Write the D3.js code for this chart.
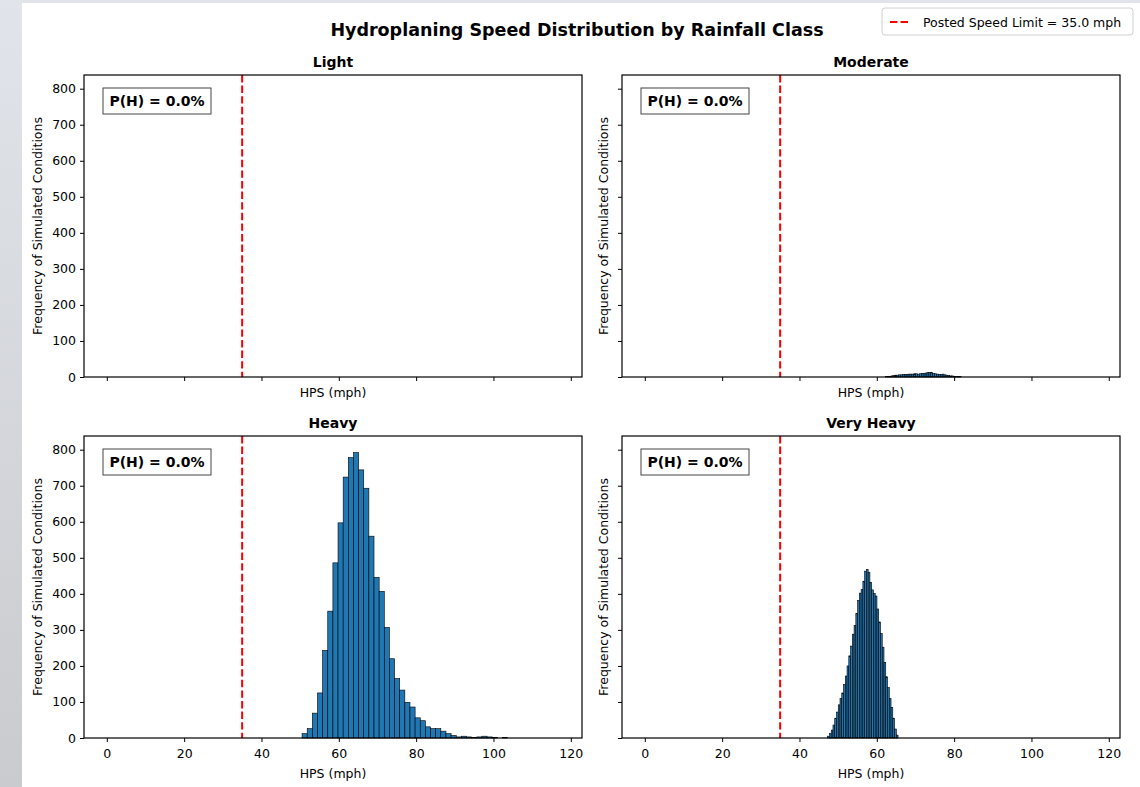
<!DOCTYPE html>
<html>
<head>
<meta charset="utf-8">
<script src="https://cdn.jsdelivr.net/npm/d3@7"></script>
<style>
  body { margin: 0; background: #ffffff; }
  svg { display: block; font-family: 'DejaVu Sans', sans-serif; }
  .tick text { font-size: 12.5px; fill: #000; }
</style>
</head>
<body>
<svg></svg>
<script>
let width = 1140;
let height = 787;

// rainfall classes, one panel each
let classes = ['Light', 'Moderate', 'Heavy', 'Very Heavy'];
let probH = ['0.0%', '0.0%', '0.0%', '0.0%'];
let speedLimit = 35.0;

// histogram bins: first edge (mph), bin width (mph), counts
let binStart = [0, 62.2, 50.5, 47.3];
let binWidth = [1, 0.49, 1.329, 0.455];
let lightCounts = [];
let moderateCounts = [1, 2, 2, 3, 4, 5, 5, 6, 6, 7, 7, 7, 8, 8, 8, 9, 9, 8, 9, 10,
    10, 11, 12, 13, 12, 10, 9, 8, 7, 7, 8, 6, 5, 4, 3, 3, 2, 1, 1, 1];
let heavyCounts = [12, 26, 69, 125, 243, 352, 486, 597, 724, 778, 792, 744, 693, 560, 446, 407, 307, 220, 165, 133,
    99, 86, 56, 48, 31, 26, 26, 19, 12, 7, 3, 5, 3, 1, 3, 5, 3, 2, 0, 1];
let veryHeavyCounts = [5, 12, 22, 36, 55, 72, 92, 110, 125, 148, 172, 200, 228, 255, 288, 312, 345, 382, 402, 412,
    435, 463, 468, 460, 432, 411, 401, 394, 358, 322, 290, 252, 210, 170, 140, 110, 85, 55, 25, 8];
let counts = [lightCounts, moderateCounts, heavyCounts, veryHeavyCounts];

let xTicks = [0, 20, 40, 60, 80, 100, 120];
let yTicks = [0, 100, 200, 300, 400, 500, 600, 700, 800];

let svg = d3.select('svg')
    .attr('width', width)
    .attr('height', height);

// screenshot backdrop
let defs = svg.append('defs');
let grad = defs.append('linearGradient')
    .attr('id', 'bg')
    .attr('x1', 0).attr('y1', 0).attr('x2', 0).attr('y2', 1);
grad.append('stop').attr('offset', '0%').attr('stop-color', '#e1e4ea');
grad.append('stop').attr('offset', '100%').attr('stop-color', '#c9cbce');

svg.append('rect')
    .attr('width', width).attr('height', height)
    .attr('fill', 'url(#bg)');
svg.append('rect')
    .attr('x', 22).attr('y', 3)
    .attr('width', width - 22).attr('height', height - 3)
    .attr('fill', '#ffffff');

svg.append('text')
    .attr('x', 577).attr('y', 36)
    .attr('text-anchor', 'middle')
    .attr('font-size', '17.5px')
    .attr('font-weight', 'bold')
    .text('Hydroplaning Speed Distribution by Rainfall Class');

let panelW = 498;
let panelH = 302;
let panelX = [84, 622, 84, 622];
let panelY = [75, 75, 436, 436];

classes.forEach(function (name, i) {
    let g = svg.append('g')
        .attr('transform', 'translate(' + panelX[i] + ',' + panelY[i] + ')');

    let x = d3.scaleLinear().domain([-5.9, 122.9]).range([0, panelW]);
    let y = d3.scaleLinear().domain([0, 838]).range([panelH, 0]);

    let bins = counts[i].map(function (c, j) {
        return { x0: binStart[i] + j * binWidth[i], x1: binStart[i] + (j + 1) * binWidth[i], n: c };
    });

    g.selectAll('rect.bar')
        .data(bins)
        .enter()
        .append('rect')
        .attr('class', 'bar')
        .attr('x', d => x(d.x0))
        .attr('width', d => x(d.x1) - x(d.x0))
        .attr('y', d => y(d.n))
        .attr('height', d => y(0) - y(d.n))
        .attr('fill', '#1f77b4')
        .attr('stroke', '#000')
        .attr('stroke-width', 0.6);

    g.append('line')
        .attr('x1', x(speedLimit)).attr('x2', x(speedLimit))
        .attr('y1', 0).attr('y2', panelH)
        .attr('stroke', 'red')
        .attr('stroke-width', 2)
        .attr('stroke-dasharray', '7.4,3.2');

    let bottomRow = i >= 2;
    let leftCol = i % 2 == 0;

    let xAxis = d3.axisBottom(x).tickValues(xTicks).tickSize(4).tickPadding(7);
    if (!bottomRow) xAxis.tickFormat('');
    let gx = g.append('g')
        .attr('transform', 'translate(0,' + panelH + ')')
        .call(xAxis);
    gx.select('.domain').remove();

    let yAxis = d3.axisLeft(y).tickValues(yTicks).tickSize(4).tickPadding(4);
    if (!leftCol) yAxis.tickFormat('');
    let gy = g.append('g').call(yAxis);
    gy.select('.domain').remove();

    g.selectAll('.tick line').attr('stroke', '#000').attr('stroke-width', 1);
    g.selectAll('.tick text').attr('font-family', "'DejaVu Sans', sans-serif");

    g.append('rect')
        .attr('width', panelW).attr('height', panelH)
        .attr('fill', 'none')
        .attr('stroke', '#000')
        .attr('stroke-width', 1.2);

    g.append('text')
        .attr('x', panelW / 2).attr('y', -8)
        .attr('text-anchor', 'middle')
        .attr('font-size', '14px')
        .attr('font-weight', 'bold')
        .text(name);

    g.append('text')
        .attr('x', panelW / 2).attr('y', bottomRow ? panelH + 40 : panelH + 20)
        .attr('text-anchor', 'middle')
        .attr('font-size', '12.5px')
        .text('HPS (mph)');

    g.append('text')
        .attr('transform', 'translate(' + (leftCol ? -42 : -14) + ',' + (panelH / 2) + ') rotate(-90)')
        .attr('text-anchor', 'middle')
        .attr('font-size', '12.5px')
        .text('Frequency of Simulated Conditions');

    // probability box
    g.append('rect')
        .attr('x', 19).attr('y', 13)
        .attr('width', 108).attr('height', 26)
        .attr('fill', '#fff')
        .attr('stroke', '#444')
        .attr('stroke-width', 1);
    g.append('text')
        .attr('x', 73).attr('y', 31)
        .attr('text-anchor', 'middle')
        .attr('font-size', '14px')
        .attr('font-weight', 'bold')
        .text('P(H) = ' + probH[i]);
});

// legend
let lg = svg.append('g').attr('transform', 'translate(882,8)');
lg.append('rect')
    .attr('width', 251).attr('height', 27)
    .attr('rx', 3)
    .attr('fill', '#fff')
    .attr('stroke', '#d0d0d0');
lg.append('line')
    .attr('x1', 8).attr('x2', 28)
    .attr('y1', 14).attr('y2', 14)
    .attr('stroke', 'red')
    .attr('stroke-width', 2)
    .attr('stroke-dasharray', '7.4,3.2');
lg.append('text')
    .attr('x', 41).attr('y', 18.5)
    .attr('font-size', '12.5px')
    .text('Posted Speed Limit = ' + speedLimit.toFixed(1) + ' mph');
</script>
</body>
</html>
